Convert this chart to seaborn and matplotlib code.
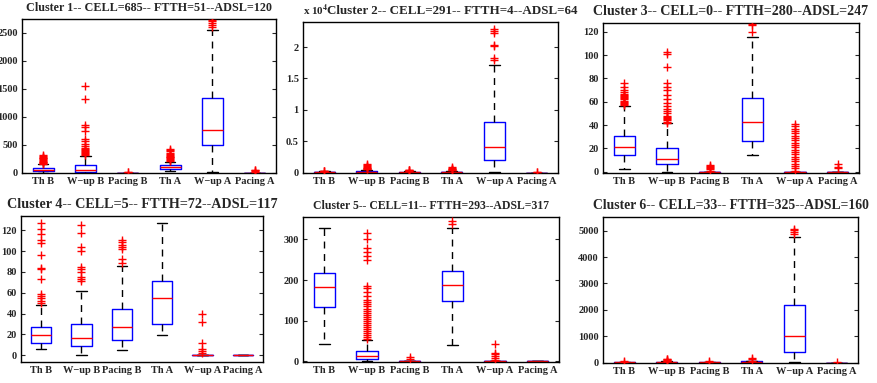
import matplotlib
matplotlib.use("Agg")
import matplotlib.pyplot as plt
import matplotlib.ticker as mticker
import seaborn as sns
import pandas as pd
import numpy as np

# box order used on every panel
phases = ["Th B", "W\u2212up B", "Pacing B", "Th A", "W\u2212up A", "Pacing A"]

titles = [
    "Cluster 1-- CELL=685-- FTTH=51--ADSL=120",
    "Cluster 2-- CELL=291-- FTTH=4--ADSL=64",
    "Cluster 3-- CELL=0-- FTTH=280--ADSL=247",
    "Cluster 4-- CELL=5-- FTTH=72--ADSL=117",
    "Cluster 5-- CELL=11-- FTTH=293--ADSL=317",
    "Cluster 6-- CELL=33-- FTTH=325--ADSL=160",
]

# five-number summaries per phase: [lower whisker, q1, median, q3, upper whisker]
c1_summary = [[3, 30, 55, 84, 150], [0, 18, 54, 138, 300], [0, 0, 0, 0, 0],
              [24, 72, 96, 132, 197], [18, 496, 771, 1328, 2553], [0, 0, 0, 0, 0]]
c1_fliers = [[160, 175, 190, 200, 210, 225, 240, 255, 270, 285, 300, 315],
             [310, 330, 350, 370, 390, 410, 430, 450, 480, 520, 560, 600, 750, 820, 860, 1310, 1545],
             [8, 15],
             [215, 230, 245, 260, 275, 290, 305, 320, 340, 360, 380, 400, 420],
             [2600, 2640, 2680, 2710, 2740],
             [10, 25, 40, 55]]

c2_summary = [[0, 20, 60, 110, 200], [0, 30, 105, 260, 475], [0, 10, 60, 130, 260],
              [0, 40, 100, 150, 300], [20, 2005, 4116, 8021, 17100], [0, 0, 0, 0, 0]]
c2_fliers = [[220, 260, 300],
             [520, 600, 700, 800, 900, 1000, 1160, 1320],
             [300, 350, 370, 450],
             [350, 420, 500, 630, 750, 900],
             [17900, 18200, 20200, 20400, 22300, 22600, 22900],
             [30, 60]]

c3_summary = [[2.6, 14.2, 21.6, 30.9, 56.2], [0, 6.5, 11.3, 20.7, 41.7], [0, 0, 0, 0, 0],
              [14.5, 26.4, 42.8, 63.0, 115.7], [0, 0, 0, 0, 0], [0, 0, 0, 0, 0]]
c3_fliers = [[57, 58, 59, 60, 61, 62, 63, 64, 65, 66, 67, 68, 70, 73, 76],
             [42, 43, 44, 45, 46, 47, 48, 50, 52, 54, 56, 59, 62, 66, 70, 73, 76, 90, 101, 103],
             [1, 2, 3, 4, 5, 6],
             [119.5, 126, 127],
             [1, 3, 5, 7, 9, 11, 13, 15, 17, 19, 21, 23, 25, 27, 29, 31, 33, 35, 37, 39, 41],
             [3, 4, 7]]

c4_summary = [[6.1, 11.5, 19.1, 26.8, 48.5], [0, 8.6, 16.3, 29.7, 61.6], [4.8, 14.7, 27.1, 44.4, 86.2],
              [19.8, 30.3, 54.9, 71.5, 127.3], [0, 0, 0, 0, 0], [0, 0, 0, 0, 0]]
c4_fliers = [[50, 52, 55, 57, 59, 73, 83, 84, 96, 108, 111, 116, 121, 127],
             [71, 73, 75, 80, 83, 85, 100, 104, 117, 125],
             [89, 92, 102, 104, 106, 109, 111],
             [],
             [2, 4, 6, 12, 32, 40],
             []]

c5_summary = [[43, 134, 182, 218, 327], [0, 5.7, 13, 24.5, 53], [0, 0, 0, 0, 0],
              [40, 148, 188, 222, 327], [0, 0, 0, 0, 0], [0, 0, 0, 0, 0]]
c5_fliers = [[],
             [56, 60, 65, 70, 75, 80, 85, 90, 95, 100, 105, 110, 115, 120, 125, 130, 135,
              140, 145, 150, 160, 170, 180, 185, 250, 260, 270, 280, 300, 315],
             [5, 12],
             [338, 345],
             [3, 8, 14, 18, 20, 42],
             []]

c6_summary = [[0, 2, 8, 15, 25], [0, 5, 12, 30, 45], [0, 2, 8, 15, 25],
              [0, 8, 20, 50, 70], [38, 392, 1025, 2177, 4759], [0, 0, 0, 0, 0]]
c6_fliers = [[30, 50],
             [50, 80, 100, 130, 150],
             [30, 50],
             [80, 120, 170],
             [4870, 4950, 5020, 5080],
             [10]]

summaries = [c1_summary, c2_summary, c3_summary, c4_summary, c5_summary, c6_summary]
fliers = [c1_fliers, c2_fliers, c3_fliers, c4_fliers, c5_fliers, c6_fliers]

# layout (pixels of an 878x383 canvas): left, top, right, bottom
boxes_px = [(22, 19, 276, 173), (303, 22, 558, 173), (603, 23, 859, 173),
            (21, 216, 263, 362), (303, 217, 559, 362), (603, 217, 858, 363)]
ylims = [(-5, 2750), (-60, 24000), (-1, 127.5), (-6.4, 133.7), (-1.5, 355), (-13, 5520)]
yticks = [np.arange(0, 2501, 500), np.arange(0, 20001, 5000), np.arange(0, 121, 20),
          np.arange(0, 121, 20), np.arange(0, 301, 100), np.arange(0, 5001, 1000)]
title_sizes = [8.7, 9.4, 10.1, 10.2, 8.5, 9.8]

sns.set_style("white")
plt.rcParams["font.family"] = ["Liberation Serif", "DejaVu Serif"]
plt.rcParams["font.weight"] = "bold"
plt.rcParams["mathtext.fontset"] = "stix"

W, H = 878, 383
fig = plt.figure(figsize=(W / 100, H / 100), dpi=100)
fig.patch.set_facecolor("white")

for i in range(6):
    l, t, r, b = boxes_px[i]
    ax = fig.add_axes([l / W, (H - b) / H, (r - l) / W, (b - t) / H])

    rows = []
    for name, vals in zip(phases, summaries[i]):
        for v in vals:
            rows.append({"phase": name, "value": v})
    df = pd.DataFrame(rows)

    frows = []
    for name, vals in zip(phases, fliers[i]):
        for v in vals:
            frows.append({"phase": name, "value": v})
    fdf = pd.DataFrame(frows, columns=["phase", "value"])

    sns.boxplot(data=df, x="phase", y="value", order=phases, ax=ax,
                whis=(0, 100), width=0.5, fill=False, color="blue", linewidth=1,
                showfliers=False,
                medianprops=dict(color="red", linewidth=1),
                whiskerprops=dict(color="black", linestyle=(0, (5, 4)), linewidth=1),
                capprops=dict(color="black", linewidth=1))
    sns.stripplot(data=fdf, x="phase", y="value", order=phases, ax=ax,
                  jitter=False, marker="+", color="red", edgecolor="red",
                  linewidth=1, size=6)

    ax.set_xlim(-0.5, 5.5)
    ax.set_ylim(*ylims[i])
    ax.set_yticks(yticks[i])
    ax.set_xlabel("")
    ax.set_ylabel("")
    if i == 1:
        ax.yaxis.set_major_formatter(mticker.FuncFormatter(lambda v, _: f"{v / 1e4:g}"))
        ax.text(0, 1.025, r"x 10$^{\mathbf{4}}$", transform=ax.transAxes,
                ha="left", va="bottom", fontsize=8, fontweight="bold")
        ax.set_title(titles[i], fontsize=title_sizes[i], fontweight="bold", x=0.584, pad=6)
    else:
        ax.set_title(titles[i], fontsize=title_sizes[i], fontweight="bold", pad=6)

    ax.tick_params(axis="y", direction="in", right=True, left=True, length=3,
                   width=0.8, labelsize=7.5, pad=3)
    ax.tick_params(axis="x", length=0, labelsize=7.5, pad=3)
    for lab in ax.get_xticklabels() + ax.get_yticklabels():
        lab.set_fontweight("bold")
    for sp in ax.spines.values():
        sp.set_visible(True)
        sp.set_color("black")
        sp.set_linewidth(1)

fig.savefig("out.png", dpi=100)
